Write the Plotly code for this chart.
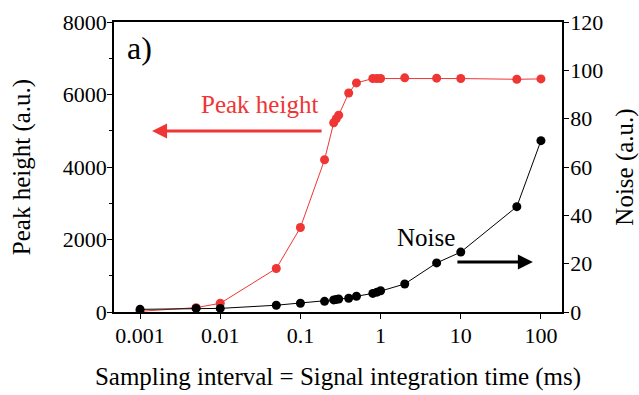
import plotly.graph_objects as go

# Sampling interval (ms) for each measurement
interval_ms = [0.001, 0.005, 0.01, 0.05, 0.1, 0.2, 0.26, 0.28, 0.3, 0.4, 0.5,
               0.8, 0.9, 1, 2, 5, 10, 50, 100]
# Peak height (a.u.), left axis
peak_height = [20, 120, 240, 1200, 2330, 4200, 5220, 5330, 5430, 6040, 6320,
               6440, 6440, 6440, 6460, 6450, 6440, 6420, 6430]
# Noise (a.u.), right axis
noise = [1.1, 1.5, 1.5, 2.8, 3.6, 4.4, 5.0, 5.2, 5.4, 5.7, 6.5,
         7.7, 8.2, 8.8, 11.6, 20.3, 24.8, 43.6, 70.9]

x_ticks = [0.001, 0.01, 0.1, 1, 10, 100]
x_ticklabels = ["0.001", "0.01", "0.1", "1", "10", "100"]

RED = "#f03535"
FONT = "Liberation Serif"
TICK_SIZE = 22
TITLE_SIZE = 25

fig = go.Figure()
fig.add_trace(go.Scatter(
    x=interval_ms, y=peak_height, mode="lines+markers",
    line=dict(color=RED, width=1), marker=dict(color=RED, size=9),
    yaxis="y", showlegend=False))
fig.add_trace(go.Scatter(
    x=interval_ms, y=noise, mode="lines+markers",
    line=dict(color="black", width=1), marker=dict(color="black", size=9),
    yaxis="y2", showlegend=False))

fig.update_layout(
    width=639, height=395,
    margin=dict(l=114, r=77, t=22, b=83),
    paper_bgcolor="white", plot_bgcolor="white",
    font=dict(family=FONT, size=TICK_SIZE, color="black"),
    xaxis=dict(
        type="log", range=[-3.325, 2.2625], automargin=False,
        tickvals=x_ticks, ticktext=x_ticklabels,
        ticks="outside", ticklen=5, tickwidth=1, tickcolor="black",
        ticklabelstandoff=-2,
        showline=True, linecolor="black", linewidth=1.5, mirror=True,
        showgrid=False, zeroline=False,
        tickfont=dict(size=TICK_SIZE),
        title=dict(text="Sampling interval = Signal integration time (ms)",
                   font=dict(size=TITLE_SIZE), standoff=20),
    ),
    yaxis=dict(
        range=[0, 8000], dtick=2000, automargin=False,
        ticks="outside", ticklen=5, tickwidth=1, tickcolor="black",
        ticklabelstandoff=-4,
        minor=dict(dtick=1000, ticks="outside", ticklen=3, tickcolor="black"),
        showline=True, linecolor="black", linewidth=1.5,
        showgrid=False, zeroline=False,
        tickfont=dict(size=TICK_SIZE),
        title=dict(text="Peak height (a.u.)", font=dict(size=TITLE_SIZE),
                   standoff=25),
    ),
    yaxis2=dict(
        overlaying="y", side="right", range=[0, 120], dtick=20,
        automargin=False,
        ticks="outside", ticklen=5, tickwidth=1, tickcolor="black",
        ticklabelstandoff=-3,
        showline=True, linecolor="black", linewidth=1.5,
        showgrid=False, zeroline=False,
        tickfont=dict(size=TICK_SIZE),
        title=dict(text="Noise (a.u.)", font=dict(size=TITLE_SIZE),
                   standoff=13),
    ),
)

# Panel label and series callouts with direction arrows
fig.add_annotation(text="a)", xref="paper", yref="paper", x=0.058, y=0.910,
                   xanchor="center", yanchor="middle", showarrow=False,
                   font=dict(size=32, color="black"))
fig.add_annotation(text="Peak height", xref="paper", yref="paper",
                   x=0.3237, y=0.717, xanchor="center", yanchor="middle",
                   showarrow=False, font=dict(size=TITLE_SIZE, color=RED))
fig.add_annotation(text="", xref="paper", yref="paper", x=0.085, y=0.624,
                   ax=171, ay=0, axref="pixel", ayref="pixel",
                   showarrow=True, arrowhead=2, arrowsize=1, arrowwidth=3,
                   arrowcolor=RED)
fig.add_annotation(text="Noise", xref="paper", yref="paper",
                   x=0.696, y=0.2586, xanchor="center", yanchor="middle",
                   showarrow=False, font=dict(size=TITLE_SIZE, color="black"))
fig.add_annotation(text="", xref="paper", yref="paper", x=0.935, y=0.172,
                   ax=-77, ay=0, axref="pixel", ayref="pixel",
                   showarrow=True, arrowhead=2, arrowsize=1, arrowwidth=3,
                   arrowcolor="black")

fig.write_html("out.html")
